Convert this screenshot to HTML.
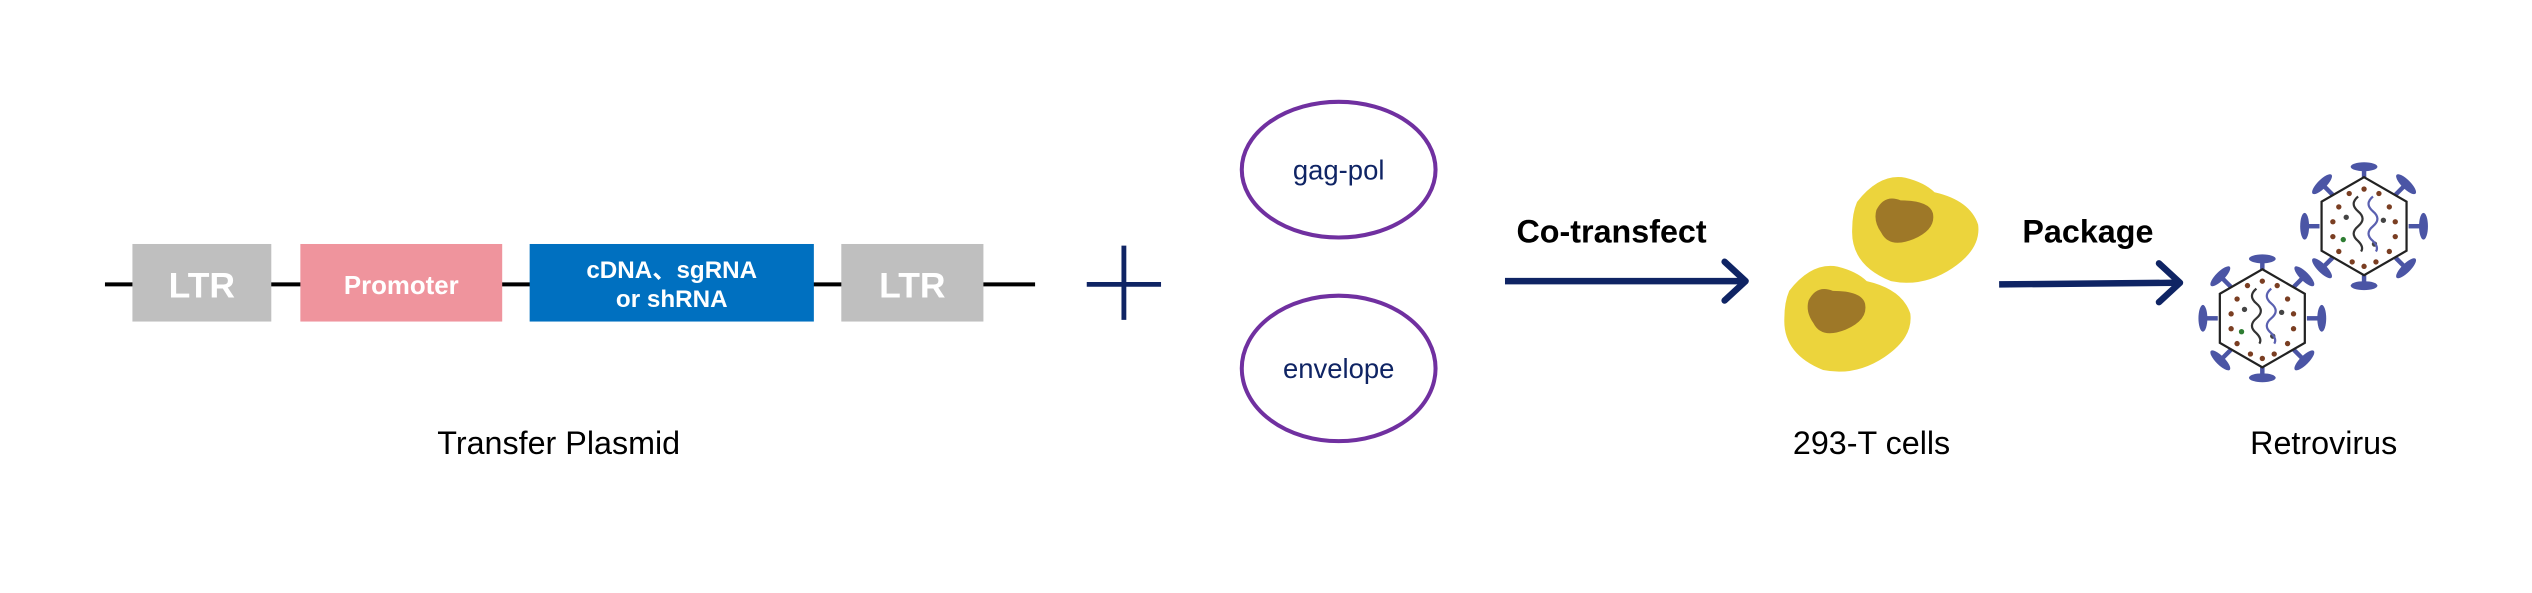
<!DOCTYPE html>
<html><head><meta charset="utf-8"><style>
html,body{margin:0;padding:0;background:#fff;}
svg{display:block;}
text{font-family:"Liberation Sans",sans-serif;}
</style></head><body>
<svg width="2532" height="593" viewBox="0 0 1568 367" preserveAspectRatio="none" xmlns="http://www.w3.org/2000/svg">
<defs>
<g id="spike"><line x1="0" y1="-30" x2="0" y2="-39" stroke="#4b55a5" stroke-width="3"/><ellipse cx="0" cy="-40" rx="9" ry="3" fill="#4b55a5"/></g>
<g id="virus">
<use href="#spike" transform="rotate(0)"/><use href="#spike" transform="rotate(45)"/><use href="#spike" transform="rotate(90)"/><use href="#spike" transform="rotate(135)"/><use href="#spike" transform="rotate(180)"/><use href="#spike" transform="rotate(225)"/><use href="#spike" transform="rotate(270)"/><use href="#spike" transform="rotate(315)"/>
<polygon points="0,-33 28.6,-16.5 28.6,16.5 0,33 -28.6,16.5 -28.6,-16.5" fill="#fff" stroke="#222" stroke-width="1.5"/>
<g fill="#7a3e22">
<circle cx="-10" cy="-22" r="1.8"/><circle cx="10" cy="-22" r="1.8"/><circle cx="-17" cy="-13" r="1.8"/><circle cx="17" cy="-13" r="1.8"/><circle cx="-21" cy="-3" r="1.8"/><circle cx="21" cy="-3" r="1.8"/><circle cx="-21" cy="7" r="1.8"/><circle cx="21" cy="7" r="1.8"/><circle cx="-17" cy="17" r="1.8"/><circle cx="17" cy="17" r="1.8"/><circle cx="-8" cy="24" r="1.8"/><circle cx="8" cy="24" r="1.8"/><circle cx="0" cy="-25" r="1.8"/><circle cx="0" cy="27" r="1.8"/></g>
<circle cx="-12" cy="-6" r="1.8" fill="#444"/><circle cx="13" cy="-4" r="1.8" fill="#444"/><circle cx="-14" cy="9" r="1.8" fill="#2e7d32"/><circle cx="7" cy="12" r="1.8" fill="#444"/>
<path d="M-4,-20 q-6,5 0,10 q6,5 0,10 q-6,5 0,10 q4,4 2,7" fill="none" stroke="#333" stroke-width="1.5"/>
<path d="M6,-20 q-6,5 0,10 q6,5 0,10 q-6,5 0,10 q4,4 2,7" fill="none" stroke="#5a60b0" stroke-width="1.5"/>
</g>
</defs>
<line x1="65" y1="176" x2="641" y2="176" stroke="#000" stroke-width="2.5"/>
<rect x="82" y="151" width="86" height="48" fill="#bfbfbf"/>
<text x="125" y="184" text-anchor="middle" font-size="22" font-weight="bold" fill="#fff">LTR</text>
<rect x="186" y="151" width="125" height="48" fill="#ef949d"/>
<text x="248.5" y="182" text-anchor="middle" font-size="16" font-weight="bold" fill="#fff">Promoter</text>
<rect x="328" y="151" width="176" height="48" fill="#0070c0"/>
<text x="416" y="172" text-anchor="middle" font-size="15" font-weight="bold" fill="#fff" style='font-family:"Liberation Sans","Noto Sans CJK SC",sans-serif'>cDNA、sgRNA</text>
<text x="416" y="190" text-anchor="middle" font-size="15" font-weight="bold" fill="#fff">or shRNA</text>
<rect x="521" y="151" width="88" height="48" fill="#bfbfbf"/>
<text x="565" y="184" text-anchor="middle" font-size="22" font-weight="bold" fill="#fff">LTR</text>
<line x1="696" y1="152" x2="696" y2="198" stroke="#0f2464" stroke-width="3"/>
<line x1="673" y1="176" x2="719" y2="176" stroke="#0f2464" stroke-width="3"/>
<text x="346" y="281" text-anchor="middle" font-size="20" fill="#000">Transfer Plasmid</text>
<ellipse cx="829" cy="105" rx="60" ry="42" fill="#fff" stroke="#7030a0" stroke-width="2.5"/>
<text x="829" y="111" text-anchor="middle" font-size="17" fill="#0f2464">gag-pol</text>
<ellipse cx="829" cy="228" rx="60" ry="45" fill="#fff" stroke="#7030a0" stroke-width="2.5"/>
<text x="829" y="234" text-anchor="middle" font-size="17" fill="#0f2464">envelope</text>
<text x="998" y="150" text-anchor="middle" font-size="20" font-weight="bold" fill="#000">Co-transfect</text>
<line x1="932" y1="174" x2="1080" y2="174" stroke="#0f2464" stroke-width="4"/>
<polyline points="1068,162 1081,174 1068,186" fill="none" stroke="#0f2464" stroke-width="4" stroke-linecap="round" stroke-linejoin="round"/>
<path d="M1150,125 q14,-18 30,-15 q12,3 18,9 q22,5 27,20 q2,15 -16,27 q-18,12 -38,8 q-25,-10 -24,-32 q0,-10 3,-17z" fill="#ecd43c"/>
<path d="M1162,130 q5,-10 15,-6 q18,0 20,8 q2,10 -12,16 q-15,6 -20,-4 q-5,-7 -3,-14z" fill="#9e7828"/>
<path d="M1108,180 q14,-18 30,-15 q12,3 18,9 q22,5 27,20 q2,15 -16,27 q-18,12 -38,8 q-25,-10 -24,-32 q0,-10 3,-17z" fill="#ecd43c"/>
<path d="M1120,186 q5,-10 15,-6 q18,0 20,8 q2,10 -12,16 q-15,6 -20,-4 q-5,-7 -3,-14z" fill="#9e7828"/>
<text x="1159" y="281" text-anchor="middle" font-size="20" fill="#000">293-T cells</text>
<text x="1293" y="150" text-anchor="middle" font-size="20" font-weight="bold" fill="#000">Package</text>
<line x1="1238" y1="176" x2="1348" y2="175" stroke="#0f2464" stroke-width="4"/>
<polyline points="1337,163 1350,175 1337,187" fill="none" stroke="#0f2464" stroke-width="4" stroke-linecap="round" stroke-linejoin="round"/>
<use href="#virus" transform="translate(1464,140) scale(0.92)"/>
<use href="#virus" transform="translate(1401,197) scale(0.92)"/>
<text x="1439" y="281" text-anchor="middle" font-size="20" fill="#000">Retrovirus</text>
</svg>
</body></html>
